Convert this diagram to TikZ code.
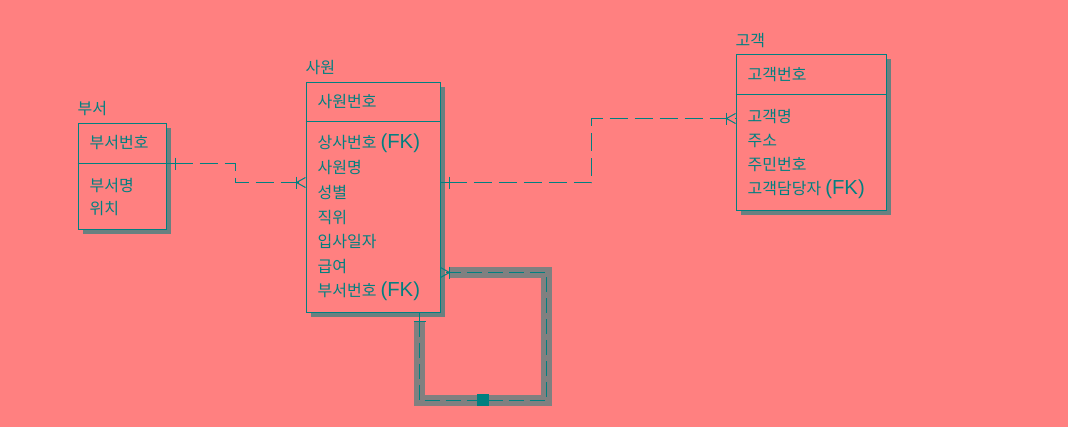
\documentclass[tikz,border=0pt]{standalone}
\usepackage{fontspec}
\setmainfont{Noto Sans CJK KR}
\newfontfamily\fkfont{Liberation Sans}
\usetikzlibrary{shadows}
\definecolor{bg}{RGB}{255,128,128}
\definecolor{ln}{RGB}{0,128,128}
\definecolor{hl}{RGB}{128,128,128}
\definecolor{shd}{RGB}{105,128,128}
\newcommand{\fk}{\hspace{4bp}{\fkfont\fontsize{20.3bp}{21bp}\selectfont (FK)}}
\begin{document}
\begin{tikzpicture}[x=1bp,y=-1bp,
  ebox/.style={draw=ln, line width=1bp, fill=bg, anchor=north west, inner sep=0pt,
    drop shadow={opacity=1, fill=shd, shadow xshift=5bp, shadow yshift=-5bp}},
  txt/.style={anchor=west, inner sep=0pt, text=ln, font=\fontsize{16bp}{17bp}\selectfont},
  conn/.style={draw=ln, line width=1bp, dash pattern=on 18bp off 7bp},
  tk/.style={draw=ln, line width=1bp},
  sel/.style={draw=hl, line width=11bp, line join=miter}
]
\useasboundingbox[fill=bg] (0,0) rectangle (1068,427);
\begin{scope}[shift={(0.5,0.5)}]
% entity boxes
\node[ebox, minimum width=88bp, minimum height=106bp] (dept) at (77,122) {};
\node[ebox, minimum width=134bp, minimum height=230bp] (emp) at (305,81) {};
\node[ebox, minimum width=150bp, minimum height=156bp] (cust) at (735,53) {};

% separators
\draw[tk] (dept.west |- 0,163) -- (dept.east |- 0,163);
\draw[tk] (emp.west |- 0,121) -- (emp.east |- 0,121);
\draw[tk] (cust.west |- 0,94) -- (cust.east |- 0,94);

% titles
\node[txt] (tdept) at (77,108) {부서};
\node[txt] (temp) at (305,67) {사원};
\node[txt] (tcust) at (735,40) {고객};

% dept attributes
\node[txt] (d1) at (89,142) {부서번호};
\node[txt] (d2) at (89,185) {부서명};
\node[txt] (d3) at (89,208) {위치};

% emp attributes
\node[txt] (e0) at (317,101) {사원번호};
\node[txt] (e1) at (317,143) {상사번호\fk};
\node[txt] (e2) at (317,167) {사원명};
\node[txt] (e3) at (317,192) {성별};
\node[txt] (e4) at (317,217) {직위};
\node[txt] (e5) at (317,241) {입사일자};
\node[txt] (e6) at (317,266) {급여};
\node[txt] (e7) at (317,291) {부서번호\fk};

% cust attributes
\node[txt] (c0) at (747,74) {고객번호};
\node[txt] (c1) at (747,116) {고객명};
\node[txt] (c2) at (747,140) {주소};
\node[txt] (c3) at (747,164) {주민번호};
\node[txt] (c4) at (747,189) {고객담당자\fk};

% self-relationship selection highlight
\draw[sel] (419,321) -- (419,400) -- (546,400) -- (546,272) -- (449,272);

% connector dept -> emp
\draw[tk] (dept.east |- 0,163) -- (174,163);
\draw[conn] (174,163) -| (235,172) |- (emp.west |- 0,182);
\draw[tk] (175,157) -- (175,169);
\draw[tk] (296,176) -- (296,188);
\draw[tk] (296,182) -- (emp.west |- 0,177);
\draw[tk] (296,182) -- (emp.west |- 0,187);

% connector emp -> cust
\draw[tk] (emp.east |- 0,182) -- (448,182);
\draw[conn] (448,182) -| (591,150) |- (cust.west |- 0,118);
\draw[tk] (449,176) -- (449,188);
\draw[tk] (726,112) -- (726,124);
\draw[tk] (726,118) -- (cust.west |- 0,113);
\draw[tk] (726,118) -- (cust.west |- 0,123);

% self connector
\draw[tk] (419,0 |- emp.south) -- (419,321);
\draw[conn, dash pattern=on 15bp off 6bp] (419,321) -- (419,400) -- (546,400) -- (546,272) -- (emp.east |- 0,272);
\draw[tk] (413,321) -- (425,321);
\draw[tk] (449,266) -- (449,278);
\draw[tk] (449,272) -- (emp.east |- 0,267);
\draw[tk] (449,272) -- (emp.east |- 0,277);
\node[fill=ln, minimum size=12bp, inner sep=0pt] (sq) at (482.5,399.5) {};
\end{scope}
\end{tikzpicture}
\end{document}
